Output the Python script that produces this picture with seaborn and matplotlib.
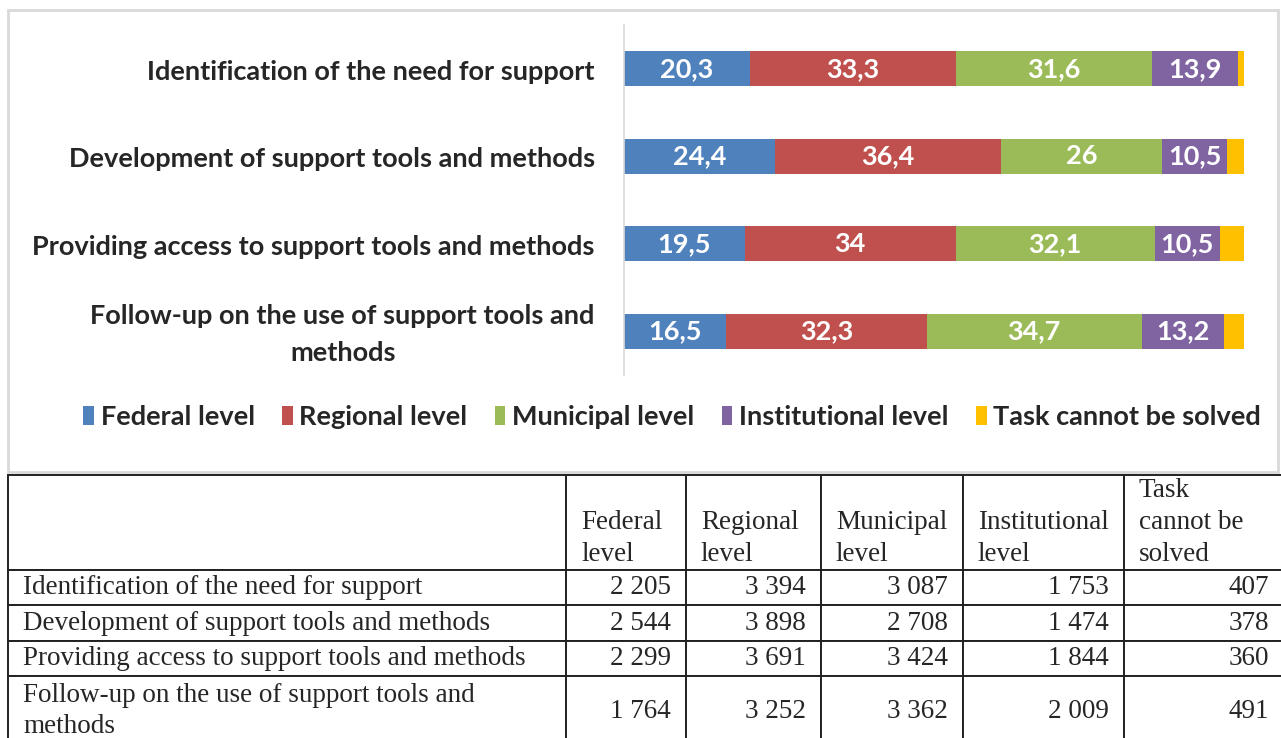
import numpy as np
import pandas as pd
import seaborn as sns
import matplotlib.pyplot as plt
import matplotlib.transforms as mtransforms
from matplotlib.patches import Patch, Rectangle

# chart data (percent)
tasks = ["Identification of the need for support",
         "Development of support tools and methods",
         "Providing access to support tools and methods",
         "Follow-up on the use of support tools and\nmethods"]
levels = ["Federal level", "Regional level", "Municipal level",
          "Institutional level", "Task cannot be solved"]
federal = [20.3, 24.4, 19.5, 16.5]
regional = [33.3, 36.4, 34.0, 32.3]
municipal = [31.6, 26.0, 32.1, 34.7]
institutional = [13.9, 10.5, 10.5, 13.2]
cannot_solve = [0.9, 2.7, 3.9, 3.3]
bar_labels = [["20,3", "24,4", "19,5", "16,5"],
              ["33,3", "36,4", "34", "32,3"],
              ["31,6", "26", "32,1", "34,7"],
              ["13,9", "10,5", "10,5", "13,2"]]
colors = ["#4F81BD", "#C0504D", "#9BBB59", "#8064A2", "#FFC000"]

# table data (counts)
table_header = ["", "\nFederal\nlevel", "\nRegional\nlevel", "\nMunicipal\nlevel",
                "\nInstitutional\nlevel", "Task\ncannot be\nsolved"]
count_federal = [2205, 2544, 2299, 1764]
count_regional = [3394, 3898, 3691, 3252]
count_municipal = [3087, 2708, 3424, 3362]
count_institutional = [1753, 1474, 1844, 2009]
count_cannot = [407, 378, 360, 491]

sns.set_style("white")
plt.rcParams["font.family"] = ["Lato", "DejaVu Sans"]
LABEL_SIZE = 19.5

W, H = 1281, 738
fig = plt.figure(figsize=(W / 100, H / 100), dpi=100)

# outer frame of the chart area
fig.add_artist(Rectangle((8 / W, 266 / H), 1270 / W, 462 / H, transform=fig.transFigure,
                         fill=False, edgecolor="#d9d9d9", linewidth=2))

ax = fig.add_axes([624 / W, 363 / H, 620 / W, 350 / H])
series = [federal, regional, municipal, institutional, cannot_solve]
cum = np.cumsum(np.array(series), axis=0)
# draw cumulative totals from the longest down so the segments stack
for i in range(len(series) - 1, -1, -1):
    df = pd.DataFrame({"task": tasks, "value": cum[i]})
    sns.barplot(data=df, x="value", y="task", orient="h", color=colors[i],
                width=0.4, errorbar=None, linewidth=0, saturation=1, ax=ax)

for i in range(4):
    for j, txt in enumerate(bar_labels[i]):
        ax.text(cum[i][j] - series[i][j] / 2, j, txt, ha="center", va="center",
                color="white", fontsize=LABEL_SIZE, fontweight="bold")

ax.set_xlim(0, 100)
ax.set_ylim(3.5, -0.5)
ax.set_xlabel("")
ax.set_ylabel("")
ax.set_xticks([])
ax.tick_params(axis="y", length=0, pad=21)
shift = mtransforms.ScaledTranslation(0, -0.03, fig.dpi_scale_trans)
for lab in ax.get_yticklabels():
    lab.set_fontsize(LABEL_SIZE)
    lab.set_fontweight("bold")
    lab.set_multialignment("center")
    lab.set_linespacing(1.65)
    lab.set_va("center")
    lab.set_transform(lab.get_transform() + shift)
for s in ["top", "right", "bottom"]:
    ax.spines[s].set_visible(False)
ax.spines["left"].set_color("#d9d9d9")
ax.spines["left"].set_linewidth(1.2)

handles = [Patch(facecolor=c, edgecolor="none") for c in colors]
fig.legend(handles, levels, loc="center", bbox_to_anchor=(672 / W, 1 - 417 / H), ncol=5,
           frameon=False, handlelength=0.4, handleheight=0.75, handletextpad=0.25,
           columnspacing=1.0, prop={"size": LABEL_SIZE, "weight": "bold"})

# table of counts
def fmt(v):
    return f"{v:,}".replace(",", " ")

rows = []
for j, name in enumerate(tasks):
    rows.append([name] + [fmt(col[j]) for col in
                          [count_federal, count_regional, count_municipal,
                           count_institutional, count_cannot]])

col_px = [558, 120, 135, 142, 161, 160]
row_px = [95, 35, 36, 35, 70]
tax = fig.add_axes([8 / W, (H - 475 - sum(row_px)) / H, sum(col_px) / W, sum(row_px) / H])
tax.axis("off")
tbl = tax.table(cellText=rows, colLabels=table_header, bbox=[0, 0, 1, 1])
tbl.auto_set_font_size(False)
for (r, c), cell in tbl.get_celld().items():
    cell.set_width(col_px[c])
    cell.set_height(row_px[r])
    cell.set_edgecolor("#222222")
    cell.set_linewidth(1.4)
    t = cell.get_text()
    t.set_fontfamily("Liberation Serif")
    t.set_fontsize(19.5)
    t.set_linespacing(1.35)
    if r == 0 or c == 0:
        t.set_ha("left")
    else:
        t.set_ha("right")
    cell.PAD = 15 / col_px[c]

fig.savefig("out.png", dpi=100)
